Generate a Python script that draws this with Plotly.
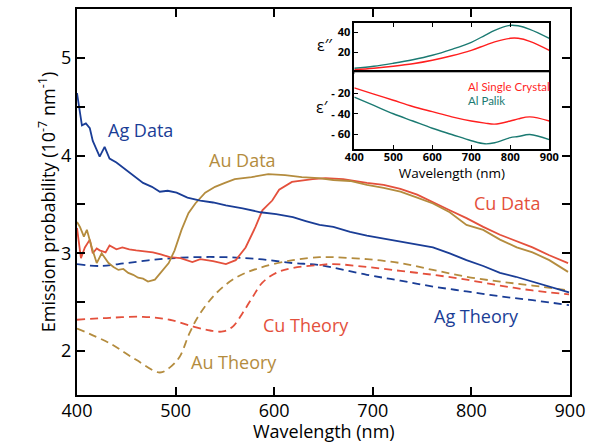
import plotly.graph_objects as go

# ---------------- main data ----------------
ag_data_x = [400, 403, 405, 409, 413, 416, 419, 423, 428, 433, 440, 450, 458, 467, 476, 484, 492, 501, 512, 525,
             538, 551, 568, 586, 602, 619, 632, 646, 660, 677, 694, 711, 728, 745, 761, 778, 795, 812, 829, 845, 862, 880, 899]
ag_data_y = [4.64, 4.45, 4.31, 4.33, 4.28, 4.15, 4.08, 3.99, 4.09, 3.97, 3.93, 3.85, 3.79, 3.72, 3.68, 3.63, 3.64, 3.62, 3.57, 3.54,
             3.52, 3.49, 3.46, 3.42, 3.40, 3.37, 3.33, 3.29, 3.27, 3.22, 3.18, 3.15, 3.12, 3.09, 3.06, 3.00, 2.93, 2.87, 2.80, 2.76, 2.71, 2.66, 2.60]

au_data_x = [400, 403, 407, 410, 415, 420, 425, 432, 437, 442, 447, 452, 457, 462, 467, 472, 479, 486, 493, 499, 506, 513, 520,
             530, 540, 550, 560, 577, 594, 611, 628, 645, 660, 677, 694, 711, 728, 745, 761, 778, 795, 812, 829, 846, 862, 879, 898]
au_data_y = [3.32, 3.27, 3.17, 3.24, 3.06, 2.90, 3.00, 2.90, 2.86, 2.83, 2.84, 2.80, 2.78, 2.75, 2.74, 2.71, 2.73, 2.81, 2.90, 3.03, 3.24, 3.41, 3.51,
             3.62, 3.68, 3.72, 3.76, 3.78, 3.81, 3.80, 3.78, 3.77, 3.75, 3.74, 3.70, 3.67, 3.63, 3.57, 3.51, 3.42, 3.29, 3.24, 3.14, 3.06, 3.01, 2.93, 2.81]

cu_data_x = [400, 404, 408, 413, 416, 420, 423, 429, 433, 440, 446, 453, 460, 468, 477, 485, 494, 505, 517, 525, 538, 551, 561,
             571, 581, 588, 598, 605, 618, 639, 652, 670, 694, 711, 728, 745, 761, 778, 795, 812, 829, 846, 862, 879, 898]
cu_data_y = [3.26, 2.95, 3.06, 3.14, 3.00, 3.05, 3.03, 3.01, 3.08, 3.04, 3.06, 3.04, 3.03, 3.02, 3.01, 2.99, 2.96, 2.95, 2.91, 2.94, 2.92, 2.89, 2.93,
             3.06, 3.27, 3.44, 3.54, 3.65, 3.73, 3.76, 3.77, 3.76, 3.72, 3.70, 3.66, 3.60, 3.52, 3.44, 3.36, 3.27, 3.19, 3.12, 3.06, 2.98, 2.90]

ag_th_x = [400, 423, 450, 484, 518, 551, 585, 619, 646, 694, 728, 761, 795, 829, 862, 899]
ag_th_y = [2.89, 2.87, 2.90, 2.94, 2.96, 2.96, 2.94, 2.90, 2.88, 2.78, 2.72, 2.66, 2.61, 2.56, 2.52, 2.47]

au_th_x = [400, 433, 460, 484, 494, 504, 514, 524, 541, 561, 585, 619, 646, 660, 694, 728, 761, 795, 829, 862, 899]
au_th_y = [2.23, 2.08, 1.91, 1.78, 1.83, 1.94, 2.18, 2.37, 2.59, 2.75, 2.85, 2.93, 2.96, 2.96, 2.94, 2.90, 2.83, 2.76, 2.71, 2.67, 2.62]

cu_th_x = [400, 433, 467, 494, 518, 535, 548, 558, 568, 578, 588, 602, 619, 646, 660, 694, 728, 761, 795, 829, 862, 899]
cu_th_y = [2.32, 2.34, 2.35, 2.32, 2.25, 2.21, 2.20, 2.25, 2.39, 2.55, 2.70, 2.80, 2.85, 2.88, 2.89, 2.86, 2.82, 2.78, 2.73, 2.67, 2.62, 2.58]

# ---------------- inset data ----------------
inset_x = [400, 450, 500, 550, 600, 650, 700, 735, 760, 800, 820, 850, 900]
eps2_palik = [4, 6, 9, 12.5, 17, 23, 30, 37, 42, 47, 46.5, 43, 34]
eps2_sc = [2.5, 4, 6, 8.5, 12, 16.5, 22, 27, 30.5, 34, 34, 31, 22]
eps1_sc = [-15, -21, -27, -33, -38, -43, -47, -49, -50, -47, -45, -43, -47]
eps1_palik = [-24, -32, -40, -47, -54, -60, -66, -69, -68, -63, -62, -60, -65]

main_xticks = [400, 500, 600, 700, 800, 900]
main_yticks = [2, 3, 4, 5]
inset_xticks = [400, 500, 600, 700, 800, 900]
eps2_ticks = [20, 40]
eps1_ticks = [-20, -40, -60]
eps1_ticktext = ["- 20", "- 40", "- 60"]

C_AG = "#1a3d96"
C_AU = "#b48c3e"
C_CU = "#e4503c"
C_RED = "#ff1f1f"
C_TEAL = "#1b7a72"
FONT = "Open Sans"

fig = go.Figure()

def line(x, y, color, dash=None, xa="x", ya="y", shape="linear", width=1.8):
    fig.add_trace(go.Scatter(x=x, y=y, mode="lines", xaxis=xa, yaxis=ya,
                             line=dict(color=color, width=width, dash=dash, shape=shape),
                             showlegend=False, hoverinfo="skip"))

DASH = "8px,5px"
line(ag_th_x, ag_th_y, C_AG, DASH, shape="spline")
line(au_th_x, au_th_y, C_AU, DASH, shape="spline")
line(cu_th_x, cu_th_y, C_CU, DASH, shape="spline")
line(cu_data_x, cu_data_y, C_CU)
line(au_data_x, au_data_y, C_AU)
line(ag_data_x, ag_data_y, C_AG)

line(inset_x, eps2_palik, C_TEAL, xa="x2", ya="y2", shape="spline", width=1.4)
line(inset_x, eps2_sc, C_RED, xa="x2", ya="y2", shape="spline", width=1.4)
line(inset_x, eps1_sc, C_RED, xa="x3", ya="y3", shape="spline", width=1.4)
line(inset_x, eps1_palik, C_TEAL, xa="x3", ya="y3", shape="spline", width=1.4)

axis_common = dict(showline=True, linecolor="black", ticks="inside", tickcolor="black",
                   showgrid=False, zeroline=False, automargin=False)

L, R, T, B = 77, 19, 9, 49
PW, PH = 589 - L - R, 444 - T - B

def px(xp):
    return (xp - L) / PW

def py(yp):
    return 1 - (yp - T) / PH

ix0, ix1 = px(354.3), px(549.3)
fig.update_layout(
    width=589, height=444,
    margin=dict(l=L, r=R, t=T, b=B, autoexpand=False),
    paper_bgcolor="white", plot_bgcolor="white",
    font=dict(family=FONT, color="black"),
    xaxis=dict(**axis_common, range=[400, 900], tickvals=main_xticks, linewidth=2, tickwidth=2, ticklen=8,
               mirror="ticks", tickfont=dict(size=18), ticklabelstandoff=-2),
    yaxis=dict(**axis_common, range=[1.55, 5.5], tickvals=main_yticks, linewidth=2, tickwidth=2, ticklen=8,
               mirror="ticks", tickfont=dict(size=18),
               minor=dict(ticks="inside", tickvals=[2.5, 3.5, 4.5], ticklen=8, tickwidth=2, tickcolor="black"),
               title=dict(text="Emission probability (10<sup>-7</sup> nm<sup>-1</sup>)", font=dict(size=18), standoff=1)),
    xaxis2=dict(**axis_common, domain=[ix0, ix1], anchor="y2", range=[400, 900], tickvals=inset_xticks,
                side="top", mirror=True, showticklabels=False, linewidth=1.5, tickwidth=1.2, ticklen=4),
    yaxis2=dict(**axis_common, domain=[py(72.3), py(23.3)], anchor="x2", range=[0, 49], tickvals=eps2_ticks,
                mirror=True, linewidth=1.5, tickwidth=1.2, ticklen=4,
                tickfont=dict(size=11, weight="bold")),
    xaxis3=dict(**axis_common, domain=[ix0, ix1], anchor="y3", range=[400, 900], tickvals=inset_xticks,
                mirror=True, linewidth=1.5, tickwidth=1.2, ticklen=4, tickfont=dict(size=11, weight="bold"),
                ticklabelstandoff=-3,
                title=dict(text="Wavelength (nm)", font=dict(size=13.5), standoff=0)),
    yaxis3=dict(**axis_common, domain=[py(149), py(72.3)], anchor="x3", range=[-74, 0], tickvals=eps1_ticks,
                ticktext=eps1_ticktext, mirror=True, linewidth=1.5, tickwidth=1.2, ticklen=4,
                tickfont=dict(size=11, weight="bold")),
)

# main x-axis title as a paper annotation, pinned to the bottom edge
fig.add_annotation(text="Wavelength (nm)", x=0.5, y=py(444), xref="paper", yref="paper", showarrow=False,
                   font=dict(size=18, family=FONT), xanchor="center", yanchor="bottom", borderpad=0)

def label(text, x, y, color, size=18, xref="x", yref="y", xanchor="center"):
    fig.add_annotation(text=text, x=x, y=y, xref=xref, yref=yref, showarrow=False,
                       font=dict(color=color, size=size, family=FONT), xanchor=xanchor, yanchor="middle")

label("Ag Data", 464, 4.26, C_AG)
label("Au Data", 568, 3.95, C_AU)
label("Cu Data", 837, 3.51, C_CU)
label("Cu Theory", 632, 2.27, C_CU)
label("Au Theory", 559, 1.89, C_AU)
label("Ag Theory", 805, 2.36, C_AG)

fig.add_annotation(text="Al Single Crystal", x=px(467), y=py(86), xref="paper", yref="paper", showarrow=False,
                   font=dict(color=C_RED, size=11.5, family="Lato"), xanchor="left", yanchor="middle",
                   borderpad=0)
fig.add_annotation(text="Al Palik", x=px(467), y=py(100.5), xref="paper", yref="paper", showarrow=False,
                   font=dict(color=C_TEAL, size=11.5, family="Lato"), xanchor="left", yanchor="middle",
                   borderpad=0)

fig.add_annotation(text="ε′′", x=px(325), y=py(32), xref="paper", yref="paper",
                   showarrow=False, font=dict(size=16, family=FONT))
fig.add_annotation(text="ε′", x=px(322), y=py(94), xref="paper", yref="paper",
                   showarrow=False, font=dict(size=16, family=FONT))

fig.write_html("out.html", config={"displayModeBar": False},
               post_script="document.body.style.margin='0';document.body.style.overflow='hidden';")
